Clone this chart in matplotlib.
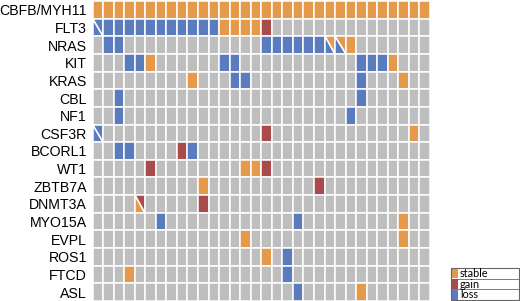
import numpy as np
import matplotlib
matplotlib.use("Agg")
import matplotlib.pyplot as plt
from matplotlib.patches import Rectangle, Polygon

genes = ["CBFB/MYH11", "FLT3", "NRAS", "KIT", "KRAS", "CBL", "NF1", "CSF3R",
         "BCORL1", "WT1", "ZBTB7A", "DNMT3A", "MYO15A", "EVPL", "ROS1", "FTCD", "ASL"]

# one character per sample: s=stable, g=gain, l=loss, .=none, /=split cell
calls = [
    "ssssssssssssssssssssssssssssssss",
    "/lllllllllllssssg...............",
    ".ll.............llllll//s.......",
    "...lls......ll...........llls...",
    ".........s...ll..........l...s..",
    "..l......................l......",
    "..l.....................l.......",
    "/...............g.............s.",
    "..ll....gl......................",
    ".....g........ssg...............",
    "..........s..........g..........",
    "..../.....g.....................",
    "......l............l.........s..",
    "..............s..............s..",
    "................s.l.............",
    "...s..............l.............",
    "...................l.....s......",
]

# split cells: (gene, sample, lower-left status, upper-right status)
split_cells = [
    ("FLT3", 0, "loss", "loss"),
    ("NRAS", 22, "loss", "stable"),
    ("NRAS", 23, "loss", "stable"),
    ("CSF3R", 0, "loss", "loss"),
    ("DNMT3A", 4, "stable", "gain"),
]

statuses = ["stable", "gain", "loss"]
codes = {"s": "stable", "g": "gain", "l": "loss"}
colors = {"stable": "#E5994A", "gain": "#A94B4B", "loss": "#5B7BBF", "none": "#BEBEBE"}

n_rows = len(genes)
n_cols = len(calls[0])

fig = plt.figure(figsize=(5.2, 3.01), dpi=100)
ax = fig.add_axes([92.5 / 520, 0.0, 337.5 / 520, 300 / 301])

splits = {(g, c): (lo, up) for g, c, lo, up in split_cells}

for i, gene in enumerate(genes):
    for j, ch in enumerate(calls[i]):
        if ch == "/":
            lo, up = splits[(gene, j)]
            ax.add_patch(Polygon([(j, i), (j, i + 1), (j + 1, i + 1)],
                                 facecolor=colors[lo], edgecolor="white", lw=1.1))
            ax.add_patch(Polygon([(j, i), (j + 1, i), (j + 1, i + 1)],
                                 facecolor=colors[up], edgecolor="white", lw=1.1))
        else:
            st = codes.get(ch, "none")
            ax.add_patch(Rectangle((j, i), 1, 1, facecolor=colors[st],
                                   edgecolor="white", lw=1.1))

ax.set_xlim(0, n_cols)
ax.set_ylim(n_rows, 0)
ax.set_yticks(np.arange(n_rows) + 0.5)
ax.set_yticklabels(genes, fontsize=10.2, family="Liberation Sans")
ax.set_xticks([])
ax.tick_params(axis="y", length=0, pad=4)
for sp in ax.spines.values():
    sp.set_visible(False)

# legend box, drawn like a small table
lax = fig.add_axes([450.5 / 520, 1 - 300 / 301, 68 / 520, 32 / 301])
lax.set_xlim(0, 1)
lax.set_ylim(len(statuses), 0)
lax.axis("off")
for k, st in enumerate(statuses):
    lax.add_patch(Rectangle((0.0, k + 0.04), 0.11, 0.92, facecolor=colors[st],
                            edgecolor="none"))
    lax.text(0.14, k + 0.5, st, fontsize=7.8, family="Lato", va="center", ha="left")
    if k > 0:
        lax.plot([0, 1], [k, k], color="#666666", lw=0.6)
lax.add_patch(Rectangle((0, 0), 1, len(statuses), fill=False, edgecolor="#666666",
                        lw=0.8, clip_on=False))

fig.savefig("out.png", dpi=100)
